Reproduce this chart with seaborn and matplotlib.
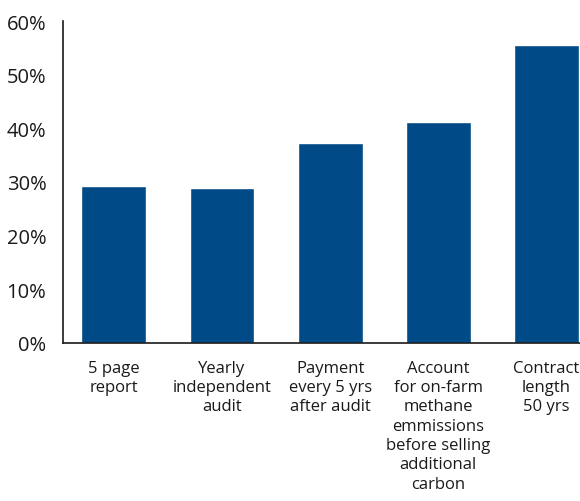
import matplotlib
matplotlib.use("Agg")
import matplotlib.pyplot as plt
import seaborn as sns
import pandas as pd
from matplotlib.ticker import FuncFormatter

categories = [
    "5 page\nreport",
    "Yearly\nindependent\naudit",
    "Payment\nevery 5 yrs\nafter audit",
    "Account\nfor on-farm\nmethane\nemmissions\nbefore selling\nadditional\ncarbon",
    "Contract\nlength\n50 yrs",
]
shares = [29.2, 28.9, 37.2, 41.1, 55.5]
y_ticks = [0, 10, 20, 30, 40, 50, 60]

sns.set_theme(style="white")
plt.rcParams["font.family"] = ["Open Sans", "DejaVu Sans"]

df = pd.DataFrame({"option": categories, "share": shares})

fig = plt.figure(figsize=(5.8, 5.02), dpi=100)
ax = fig.add_axes([63 / 580, 1 - 344 / 502, (580 - 63) / 580, (344 - 22) / 502])

sns.barplot(data=df, x="option", y="share", color="#004b87", saturation=1,
            width=0.6, ax=ax)

ax.set_xlim(-0.47, 4.31)
ax.set_ylim(0, 60)
ax.set_yticks(y_ticks)
ax.yaxis.set_major_formatter(FuncFormatter(lambda v, _: f"{v:.0f}%"))
ax.set_xlabel("")
ax.set_ylabel("")

for s in ["top", "right"]:
    ax.spines[s].set_visible(False)
for s in ["left", "bottom"]:
    ax.spines[s].set_color("#1a1a1a")
    ax.spines[s].set_linewidth(1.2)

ax.tick_params(axis="y", length=0, pad=12, labelsize=14.5, labelcolor="#1a1a1a")
ax.tick_params(axis="x", length=0, pad=12, labelsize=12, labelcolor="#1a1a1a")
for lbl in ax.get_xticklabels():
    lbl.set_linespacing(1.28)
    lbl.set_va("top")

fig.savefig("out.png", dpi=100)
